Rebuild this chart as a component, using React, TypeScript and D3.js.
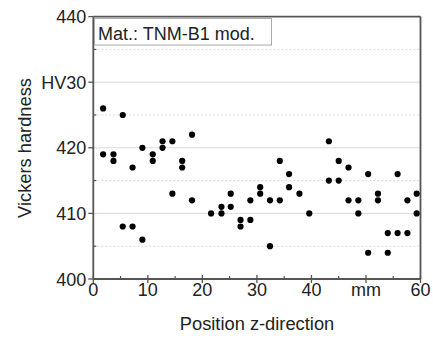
import React from "react";
import * as d3 from "d3";

const positions = [1.8, 1.8, 3.7, 3.7, 5.4, 5.4, 7.2, 7.2, 9.0, 9.0, 10.9, 10.9, 12.7, 12.7, 14.5, 14.5, 16.3, 16.3, 18.1, 18.1,
  21.6, 23.5, 23.5, 25.2, 25.2, 27.0, 27.0, 28.8, 28.8, 30.6, 30.6, 32.4, 32.4, 34.2, 34.2, 35.9, 35.9, 37.8, 39.6,
  43.2, 43.2, 45.0, 45.0, 46.8, 46.8, 48.6, 48.6, 50.4, 50.4, 52.2, 52.2, 54.0, 54.0, 55.8, 55.8, 57.6, 57.6, 59.3, 59.3];
const hardness = [426, 419, 419, 418, 425, 408, 417, 408, 420, 406, 419, 418, 421, 420, 421, 413, 418, 417, 422, 412,
  410, 411, 410, 413, 411, 409, 408, 412, 409, 414, 413, 412, 405, 418, 412, 416, 414, 413, 410,
  421, 415, 418, 415, 417, 412, 412, 410, 416, 404, 413, 412, 407, 404, 416, 407, 412, 407, 413, 410];

const xTicks = [0, 10, 20, 30, 40, 50, 60];
const xTickLabels = ["0", "10", "20", "30", "40", "mm", "60"];
const xMinor = [5, 15, 25, 35, 45, 55];
const yTicks = [400, 410, 420, 430, 440];
const yTickLabels = ["400", "410", "420", "HV30", "440"];
const yMinor = [405, 415, 425, 435];
const legendText = "Mat.: TNM-B1 mod.";
const xTitle = "Position z-direction";
const yTitle = "Vickers hardness";

export default function App() {
  const W = 433, H = 339;
  const left = 93.3, right = 420.5, top = 16.6, bottom = 279;
  const x = d3.scaleLinear().domain([0, 60]).range([left, right]);
  const y = d3.scaleLinear().domain([400, 440]).range([bottom, top]);
  const font = "'Liberation Sans', Arial, sans-serif";
  const axisColor = "#555";
  return (
    <svg width={W} height={H} style={{ position: "absolute", left: 0, top: 0, background: "#fff" }} fontFamily={font}>
      <rect x={0} y={0} width={W} height={H} fill="#fff" />
      {yTicks.filter(t => t > 400 && t < 440).map(t => (
        <line key={"g" + t} x1={left} x2={right} y1={y(t)} y2={y(t)} stroke="#d9d9d9" strokeWidth={1} />
      ))}
      {yMinor.map(t => (
        <line key={"gm" + t} x1={left} x2={right} y1={y(t)} y2={y(t)} stroke="#d9d9d9" strokeWidth={1} strokeDasharray="2,2" />
      ))}
      {/* frame */}
      <line x1={left} x2={right} y1={top} y2={top} stroke={axisColor} strokeWidth={1.8} />
      <line x1={right} x2={right} y1={top} y2={bottom} stroke={axisColor} strokeWidth={1.8} />
      <line x1={left} x2={left} y1={top} y2={bottom} stroke={axisColor} strokeWidth={1.8} />
      <line x1={left} x2={right} y1={bottom} y2={bottom} stroke={axisColor} strokeWidth={1.8} />
      {/* x ticks */}
      {xTicks.map((t, i) => (
        <g key={"xt" + t}>
          <line x1={x(t)} x2={x(t)} y1={bottom - 4} y2={bottom + 4} stroke={axisColor} strokeWidth={1.3} />
          <text x={x(t)} y={bottom + 17} textAnchor="middle" fontSize={18} fill="#222">{xTickLabels[i]}</text>
        </g>
      ))}
      {xMinor.map(t => (
        <line key={"xm" + t} x1={x(t)} x2={x(t)} y1={bottom - 3} y2={bottom} stroke={axisColor} strokeWidth={1.2} />
      ))}
      {/* y ticks */}
      {yTicks.map((t, i) => (
        <g key={"yt" + t}>
          <line x1={left - 5} x2={left} y1={y(t)} y2={y(t)} stroke={axisColor} strokeWidth={1.3} />
          <text x={left - 7} y={y(t) + 6.5} textAnchor="end" fontSize={18} fill="#222">{yTickLabels[i]}</text>
        </g>
      ))}
      {yMinor.map(t => (
        <line key={"ym" + t} x1={left} x2={left + 3} y1={y(t)} y2={y(t)} stroke={axisColor} strokeWidth={1.2} />
      ))}
      {/* points */}
      {positions.map((p, i) => (
        <circle key={"p" + i} cx={x(p)} cy={y(hardness[i])} r={3.1} fill="#000" />
      ))}
      {/* legend */}
      <rect x={94.5} y={18.5} width={177} height={26.5} fill="#fff" stroke="#aaa" strokeWidth={1} />
      <text x={98} y={40} fontSize={18} fill="#222">{legendText}</text>
      {/* titles */}
      <text x={257} y={330} textAnchor="middle" fontSize={18.3} fill="#222">{xTitle}</text>
      <text transform={`translate(31,148) rotate(-90)`} textAnchor="middle" fontSize={18.3} fill="#222">{yTitle}</text>
    </svg>
  );
}
